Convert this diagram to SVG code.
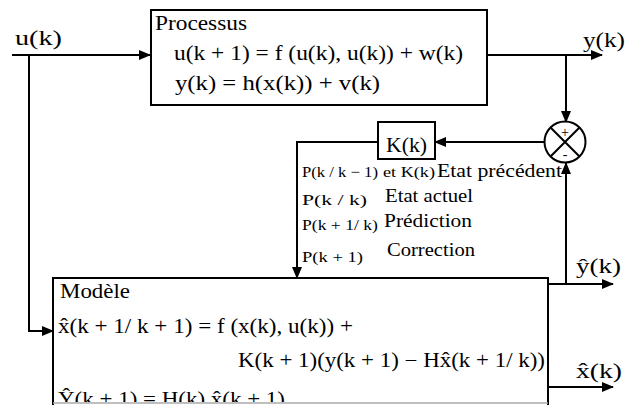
<svg xmlns="http://www.w3.org/2000/svg" width="637" height="405" viewBox="0 0 637 405">
<style>
text{font-family:"Liberation Serif","DejaVu Serif","Noto Serif",serif;fill:#000}
.t20{font-size:20px}
.t19{font-size:19px}
.t15{font-size:15px}
.t13{font-size:14px}
.box{fill:#fff;stroke:#000;stroke-width:2}
.ln{fill:none;stroke:#000;stroke-width:2}
</style>
<defs>
<marker id="ah" markerUnits="userSpaceOnUse" markerWidth="12" markerHeight="10" refX="11" refY="5" orient="auto">
<path d="M0,0 L12,5 L0,10 Z" fill="#000"/>
</marker>
<clipPath id="cb"><rect x="0" y="0" width="637" height="402"/></clipPath>
</defs>

<g id="connectors">
<path class="ln" d="M12 55 H150" marker-end="url(#ah)"/>
<path class="ln" d="M29 55 V331 H53" marker-end="url(#ah)"/>
<path class="ln" d="M487 55 H602" marker-end="url(#ah)"/>
<path class="ln" d="M566 55 V122" marker-end="url(#ah)"/>
<path class="ln" d="M545 142 H435" marker-end="url(#ah)"/>
<path class="ln" d="M378 142 H297 V278" marker-end="url(#ah)"/>
<path class="ln" d="M548 284 H613" marker-end="url(#ah)"/>
<path class="ln" d="M566 284 V163" marker-end="url(#ah)"/>
<path class="ln" d="M548 387 H613" marker-end="url(#ah)"/>
</g>

<g id="labels">
<text class="t20" x="15" y="45" textLength="47" lengthAdjust="spacingAndGlyphs">u(k)</text>
<text class="t20" x="583" y="47" textLength="42" lengthAdjust="spacingAndGlyphs">y(k)</text>
<text class="t20" x="576" y="273" textLength="45" lengthAdjust="spacingAndGlyphs">ŷ(k)</text>
<text class="t20" x="576" y="378" textLength="46" lengthAdjust="spacingAndGlyphs">x̂(k)</text>
</g>

<g id="processus">
<rect class="box" x="151" y="10" width="336" height="95"/>
<text class="t20" x="155" y="30" textLength="92" lengthAdjust="spacingAndGlyphs">Processus</text>
<text class="t20" x="174" y="60" textLength="289" lengthAdjust="spacingAndGlyphs">u(k + 1) = f (u(k), u(k)) + w(k)</text>
<text class="t20" x="175" y="90" textLength="205" lengthAdjust="spacingAndGlyphs">y(k) = h(x(k)) + v(k)</text>
</g>

<g id="comparateur">
<circle cx="565" cy="142" r="20.5" fill="#fff" stroke="#000" stroke-width="2"/>
<path class="ln" d="M550.5 127.5 L579.5 156.5 M579.5 127.5 L550.5 156.5"/>
<text class="t13" x="565" y="137" text-anchor="middle">+</text>
<text class="t13" x="565" y="159" text-anchor="middle">-</text>
</g>

<g id="gain">
<rect class="box" x="378" y="122" width="57" height="37"/>
<text class="t20" x="386" y="152" textLength="41" lengthAdjust="spacingAndGlyphs">K(k)</text>
</g>

<g id="etats">
<text class="t15" x="302" y="177" textLength="76" lengthAdjust="spacingAndGlyphs">P(k / k − 1)</text>
<text class="t15" x="383" y="177" textLength="52" lengthAdjust="spacingAndGlyphs">et K(k)</text>
<text class="t19" x="437" y="177" textLength="125" lengthAdjust="spacingAndGlyphs">Etat précédent</text>
<text class="t15" x="302" y="205" textLength="65" lengthAdjust="spacingAndGlyphs">P(k / k)</text>
<text class="t19" x="385" y="202" textLength="88" lengthAdjust="spacingAndGlyphs">Etat actuel</text>
<text class="t15" x="302" y="230" textLength="76" lengthAdjust="spacingAndGlyphs">P(k + 1/ k)</text>
<text class="t19" x="384" y="227" textLength="88" lengthAdjust="spacingAndGlyphs">Prédiction</text>
<text class="t15" x="302" y="262" textLength="61" lengthAdjust="spacingAndGlyphs">P(k + 1)</text>
<text class="t19" x="387" y="256" textLength="88" lengthAdjust="spacingAndGlyphs">Correction</text>
</g>

<g id="modele">
<rect x="53" y="278" width="495" height="130" fill="#fff"/>
<path class="ln" d="M53 405 V278 H548 V405"/>
<line x1="53" y1="403" x2="548" y2="403" stroke="#aaa" stroke-width="1.5"/>
<text class="t20" x="60" y="298" textLength="70" lengthAdjust="spacingAndGlyphs">Modèle</text>
<text class="t20" x="58" y="333" textLength="295" lengthAdjust="spacingAndGlyphs">x̂(k + 1/ k + 1) = f (x(k), u(k)) +</text>
<text class="t20" x="238" y="367" textLength="307" lengthAdjust="spacingAndGlyphs">K(k + 1)(y(k + 1) − Hx̂(k + 1/ k))</text>
<g clip-path="url(#cb)">
<text class="t20" x="58" y="406" textLength="227" lengthAdjust="spacingAndGlyphs">Ŷ(k + 1) = H(k) x̂(k + 1)</text>
</g>
</g>
</svg>
